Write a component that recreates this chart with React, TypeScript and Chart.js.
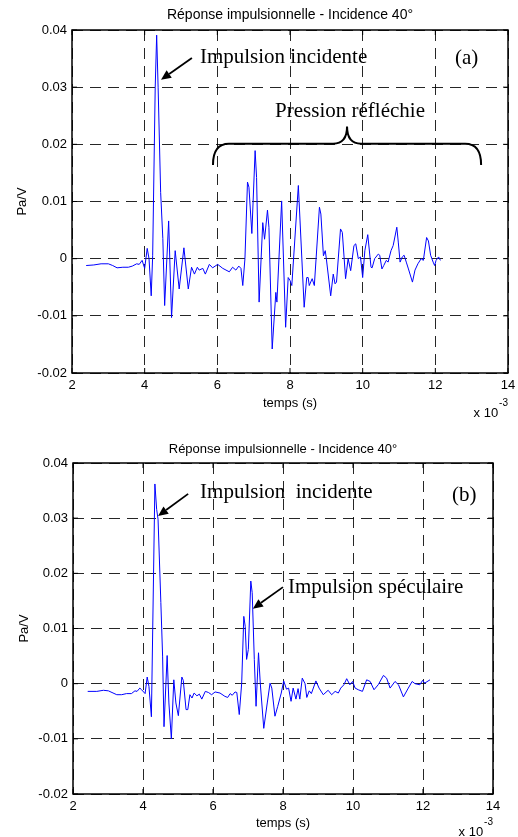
import React, { useEffect, useRef } from 'react';
import { Chart, registerables } from 'chart.js';

Chart.register(...registerables);

// ---------- DATA ----------
const chartTitle = 'Réponse impulsionnelle - Incidence 40°';
const xAxisLabel = 'temps (s)';
const yAxisLabel = 'Pa/V';
const xMin = 2;
const xMax = 14;
const xStep = 2;
const yMin = -0.02;
const yMax = 0.04;
const yStep = 0.01;

// time in units of 1e-3 s
const timeA = [
  2.39, 2.6, 2.8, 3.0, 3.12, 3.24, 3.4, 3.55, 3.66, 3.78,
  3.85, 3.93, 4.0, 4.07, 4.12, 4.18, 4.22, 4.29, 4.33, 4.37,
  4.44, 4.5, 4.55, 4.66, 4.74, 4.84, 4.95, 5.08, 5.2, 5.29,
  5.37, 5.45, 5.5, 5.6, 5.67, 5.78, 5.87, 6.01, 6.15, 6.33,
  6.42, 6.51, 6.59, 6.65, 6.7, 6.76, 6.83, 6.87, 6.95, 7.04,
  7.08, 7.15, 7.25, 7.3, 7.38, 7.42, 7.51, 7.61, 7.64, 7.77,
  7.88, 7.95, 8.0, 8.05, 8.23, 8.39, 8.46, 8.5, 8.53, 8.61,
  8.67, 8.81, 8.85, 8.92, 8.97, 9.0, 9.12, 9.19, 9.24, 9.28,
  9.39, 9.44, 9.53, 9.6, 9.67, 9.76, 9.81, 9.88, 9.94, 10.0,
  10.06, 10.14, 10.23, 10.26, 10.33, 10.43, 10.47, 10.53, 10.58, 10.65,
  10.7, 10.78, 10.84, 10.94, 10.98, 11.03, 11.09, 11.14, 11.2, 11.26,
  11.37, 11.44, 11.52, 11.61, 11.67, 11.76, 11.81, 11.87, 11.94, 11.98,
  12.02, 12.09, 12.14,
];
const pressureA = [
  -0.0012, -0.0011, -0.0009, -0.0009, -0.0012, -0.0016, -0.0015, -0.0015, -0.0013, -0.0009,
  -0.001, -0.0003, -0.0017, 0.0018, 0.0, -0.0065, 0.0005, 0.030, 0.0391, 0.030,
  0.0116, 0.0035, -0.0082, 0.0066, -0.0103, 0.0014, -0.0053, 0.0019, -0.0053, -0.0015,
  -0.0027, -0.0015, -0.002, -0.0017, -0.0027, -0.001, -0.0016, -0.001, -0.0017, -0.0023,
  -0.0015, -0.002, -0.0013, -0.0017, -0.0047, 0.0, 0.0134, 0.0125, 0.0044, 0.0189,
  0.0142, -0.0076, 0.0063, 0.0034, 0.0085, 0.0055, -0.0158, -0.0059, -0.0076, 0.0101,
  -0.012, -0.0033, -0.0038, -0.0047, 0.0128, -0.0085, -0.0033, -0.0033, -0.0047, -0.0035,
  -0.0047, 0.009, 0.0078, 0.0005, 0.0014, 0.0, -0.0065, -0.0027, -0.0044, -0.0041,
  0.0052, 0.0046, -0.0035, 0.0, -0.0021, 0.0023, 0.0026, 0.0, 0.0003, -0.0033,
  0.0014, 0.0042, -0.0015, -0.0016, 0.0, 0.0008, 0.0006, -0.0018, -0.0012, -0.0003,
  -0.0006, 0.0014, 0.0023, 0.0055, 0.0029, -0.0006, 0.0003, 0.0006, -0.0006, -0.0018,
  -0.0041, -0.002, -0.0009, 0.0, -0.0003, 0.0037, 0.0031, 0.0006, -0.0006, -0.0012,
  -0.0003, 0.0003, -0.0003,
];

const timeB = [
  2.42, 2.68, 2.87, 3.01, 3.25, 3.39, 3.53, 3.67, 3.77, 3.83,
  3.91, 3.96, 4.06, 4.12, 4.17, 4.24, 4.34, 4.39, 4.43, 4.51,
  4.56, 4.6, 4.69, 4.74, 4.81, 4.88, 4.94, 5.01, 5.11, 5.15,
  5.23, 5.28, 5.34, 5.4, 5.46, 5.54, 5.61, 5.68, 5.78, 5.87,
  5.96, 6.06, 6.2, 6.34, 6.42, 6.49, 6.55, 6.63, 6.68, 6.75,
  6.82, 6.88, 6.92, 6.96, 7.01, 7.08, 7.12, 7.18, 7.23, 7.3,
  7.35, 7.45, 7.55, 7.63, 7.68, 7.77, 7.85, 7.95, 8.02, 8.1,
  8.16, 8.23, 8.29, 8.37, 8.43, 8.48, 8.55, 8.63, 8.68, 8.75,
  8.81, 8.94, 9.03, 9.15, 9.29, 9.39, 9.49, 9.58, 9.65, 9.74,
  9.82, 9.91, 9.99, 10.06, 10.15, 10.27, 10.39, 10.49, 10.6, 10.72,
  10.87, 10.96, 11.06, 11.2, 11.3, 11.44, 11.58, 11.69, 11.77, 11.91,
  11.99, 12.05, 12.2,
];
const pressureB = [
  -0.0014, -0.0014, -0.0012, -0.0013, -0.002, -0.002, -0.0018, -0.0018, -0.0013, -0.0014,
  -0.0008, -0.0011, -0.0018, 0.0012, -0.0005, -0.006, 0.0362, 0.0316, 0.0298, 0.0147,
  0.005, -0.0078, 0.0051, -0.0035, -0.010, 0.0007, -0.0035, -0.0058, 0.0012, 0.0006,
  -0.0047, -0.0047, -0.002, -0.0026, -0.0017, -0.0022, -0.0019, -0.0028, -0.0014, -0.0016,
  -0.002, -0.0015, -0.0017, -0.0023, -0.0025, -0.0018, -0.0021, -0.0015, -0.0016, -0.0056,
  0.0001, 0.0122, 0.0104, 0.0044, 0.0062, 0.0186, 0.0165, 0.0044, -0.0041, 0.0056,
  0.0001, -0.0081, -0.0035, 0.0001, -0.0008, -0.0059, -0.0041, -0.0017, 0.0005, -0.001,
  -0.0008, -0.0032, -0.0008, -0.0028, -0.0009, -0.0028, 0.001, 0.0, -0.0025, -0.0013,
  -0.0018, 0.0005, -0.0008, -0.002, -0.0012, -0.002, -0.0014, -0.0017, -0.0008, -0.0002,
  0.0009, -0.0002, 0.0004, -0.0008, -0.0011, -0.0014, 0.0007, 0.0004, -0.0011, -0.0002,
  0.0015, 0.001, -0.0008, 0.0004, -0.0002, -0.0024, -0.0008, 0.0004, 0.0, -0.0002,
  0.0006, 0.0001, 0.0007,
];

// annotations (anchored in data coordinates)
const notesA = [
  { text: 'Impulsion incidente', t: 5.52, v: 0.0343 },
  { text: '(a)', t: 12.54, v: 0.0341 },
  { text: 'Pression réfléchie', t: 7.59, v: 0.0247 },
];
const arrowsA = [{ t0: 5.3, v0: 0.0351, t1: 4.45, v1: 0.0313 }];
const bracesA = [{ tStart: 5.88, tEnd: 13.26, tMid: 9.57, vLine: 0.0201, vEnd: 0.0164, vTip: 0.0231 }];

const notesB = [
  { text: 'Impulsion  incidente', t: 5.63, v: 0.0336 },
  { text: '(b)', t: 12.83, v: 0.0331 },
  { text: 'Impulsion spéculaire', t: 8.14, v: 0.0164 },
];
const arrowsB = [
  { t0: 5.29, v0: 0.0344, t1: 4.43, v1: 0.0304 },
  { t0: 8.0, v0: 0.0175, t1: 7.14, v1: 0.0136 },
];
const bracesB: any[] = [];

// ---------- RENDERING ----------
const SANS = '"Liberation Sans", Arial, Helvetica, sans-serif';
const SERIF = '"Liberation Serif", "Times New Roman", Times, serif';

type PanelSpec = {
  times: number[];
  values: number[];
  notes: { text: string; t: number; v: number }[];
  arrows: { t0: number; v0: number; t1: number; v1: number }[];
  braces: any[];
  height: number;
  padRight: number;
  yAxisWidth: number;
  xAxisHeight: number;
  titleSize: number;
  titlePad: { top: number; bottom: number };
  tickSize: number;
  yTitlePad: number;
  xTitlePad: number;
  expoDy: number;
  supDy: number;
};

function decorPlugin(spec: PanelSpec) {
  return {
    id: 'decor',
    afterDraw(chart: any) {
      const { ctx, chartArea: a, scales } = chart;
      const xs = scales.x;
      const ys = scales.y;
      const px = (t: number) => xs.getPixelForValue(t);
      const py = (v: number) => ys.getPixelForValue(v);
      ctx.save();
      ctx.setLineDash([]);
      ctx.strokeStyle = '#000';
      ctx.fillStyle = '#000';
      // inner tick marks (Matlab style)
      ctx.lineWidth = 1;
      ctx.beginPath();
      xs.ticks.forEach((tk: any) => {
        const x = px(tk.value);
        ctx.moveTo(x, a.bottom);
        ctx.lineTo(x, a.bottom - 5);
        ctx.moveTo(x, a.top);
        ctx.lineTo(x, a.top + 5);
      });
      ys.ticks.forEach((tk: any) => {
        const y = py(tk.value);
        ctx.moveTo(a.left, y);
        ctx.lineTo(a.left + 5, y);
        ctx.moveTo(a.right, y);
        ctx.lineTo(a.right - 5, y);
      });
      ctx.stroke();
      // axes box
      ctx.lineWidth = 1.5;
      ctx.strokeRect(a.left, a.top, a.right - a.left, a.bottom - a.top);

      // text notes
      ctx.font = '21px ' + SERIF;
      ctx.textAlign = 'left';
      ctx.textBaseline = 'alphabetic';
      spec.notes.forEach((n) => ctx.fillText(n.text, px(n.t), py(n.v)));

      // arrows
      spec.arrows.forEach((ar) => {
        const x0 = px(ar.t0), y0 = py(ar.v0), x1 = px(ar.t1), y1 = py(ar.v1);
        const ang = Math.atan2(y1 - y0, x1 - x0);
        const L = 10, W = 4.5;
        const bx = x1 - L * Math.cos(ang), by = y1 - L * Math.sin(ang);
        ctx.lineWidth = 1.8;
        ctx.beginPath();
        ctx.moveTo(x0, y0);
        ctx.lineTo(bx, by);
        ctx.stroke();
        ctx.beginPath();
        ctx.moveTo(x1, y1);
        ctx.lineTo(bx + W * Math.sin(ang), by - W * Math.cos(ang));
        ctx.lineTo(bx - W * Math.sin(ang), by + W * Math.cos(ang));
        ctx.closePath();
        ctx.fill();
      });

      // braces
      spec.braces.forEach((b) => {
        const L = px(b.tStart), R = px(b.tEnd), C = px(b.tMid);
        const yH = py(b.vLine), yE = py(b.vEnd), yT = py(b.vTip);
        const r = 16, r2 = 14;
        ctx.lineWidth = 2;
        ctx.beginPath();
        ctx.moveTo(L, yE);
        ctx.quadraticCurveTo(L, yH, L + r, yH);
        ctx.lineTo(C - r2, yH);
        ctx.quadraticCurveTo(C, yH, C, yT);
        ctx.quadraticCurveTo(C, yH, C + r2, yH);
        ctx.lineTo(R - r, yH);
        ctx.quadraticCurveTo(R, yH, R, yE);
        ctx.stroke();
      });

      // x 10^-3 multiplier
      ctx.font = '10px ' + SANS;
      const supW = ctx.measureText('-3').width;
      ctx.textAlign = 'right';
      ctx.fillText('-3', a.right, a.bottom + spec.supDy);
      ctx.font = spec.tickSize + 'px ' + SANS;
      ctx.fillText('x 10', a.right - supW - 1, a.bottom + spec.expoDy);
      ctx.restore();
    },
  };
}

function buildConfig(spec: PanelSpec): any {
  const points = spec.times.map((t, i) => ({ x: t, y: spec.values[i] }));
  const gridCommon = {
    color: 'rgba(0,0,0,0.85)',
    lineWidth: 1,
    drawTicks: false,
    borderDash: [11, 7],
  };
  return {
    type: 'line',
    data: {
      datasets: [
        {
          data: points,
          borderColor: '#0000ff',
          borderWidth: 1,
          pointRadius: 0,
          tension: 0,
          fill: false,
        },
      ],
    },
    options: {
      animation: false,
      responsive: false,
      maintainAspectRatio: false,
      events: [],
      layout: { padding: { left: 0, right: spec.padRight, top: 0, bottom: 0 } },
      plugins: {
        legend: { display: false },
        tooltip: { enabled: false },
        title: {
          display: true,
          text: chartTitle,
          fullSize: false,
          color: '#000',
          font: { family: SANS, size: spec.titleSize, weight: 'normal' },
          padding: spec.titlePad,
        },
      },
      scales: {
        x: {
          type: 'linear',
          min: xMin,
          max: xMax,
          grid: gridCommon,
          border: { display: false, dash: [11, 7] },
          ticks: {
            stepSize: xStep,
            color: '#000',
            padding: 5,
            maxRotation: 0,
            font: { family: SANS, size: spec.tickSize },
            callback: (v: number) => String(Math.round(v)),
          },
          title: {
            display: true,
            text: xAxisLabel,
            color: '#000',
            font: { family: SANS, size: spec.tickSize },
            padding: { top: 0, bottom: spec.xTitlePad },
          },
          afterFit: (s: any) => {
            s.height = spec.xAxisHeight;
            s.paddingLeft = 0;
            s.paddingRight = 0;
          },
        },
        y: {
          type: 'linear',
          min: yMin,
          max: yMax,
          grid: gridCommon,
          border: { display: false, dash: [11, 7] },
          ticks: {
            stepSize: yStep,
            color: '#000',
            padding: 5,
            font: { family: SANS, size: spec.tickSize },
            callback: (v: number) => (Math.abs(v) < 1e-9 ? '0' : v.toFixed(2)),
          },
          title: {
            display: true,
            text: yAxisLabel,
            color: '#000',
            font: { family: SANS, size: spec.tickSize },
            padding: { top: spec.yTitlePad, bottom: 0 },
          },
          afterFit: (s: any) => {
            s.width = spec.yAxisWidth;
            s.paddingTop = 0;
            s.paddingBottom = 0;
          },
        },
      },
    },
    plugins: [decorPlugin(spec)],
  };
}

function Panel({ spec, top }: { spec: PanelSpec; top: number }) {
  const ref = useRef<HTMLCanvasElement>(null);
  useEffect(() => {
    if (!ref.current) return;
    const chart = new Chart(ref.current, buildConfig(spec));
    return () => chart.destroy();
  }, [spec]);
  return (
    <canvas
      ref={ref}
      width={518}
      height={spec.height}
      style={{ position: 'absolute', left: 0, top, width: 518, height: spec.height }}
    />
  );
}

const specA: PanelSpec = {
  times: timeA,
  values: pressureA,
  notes: notesA,
  arrows: arrowsA,
  braces: bracesA,
  height: 418,
  padRight: 10,
  yAxisWidth: 72,
  xAxisHeight: 45,
  titleSize: 14,
  titlePad: { top: 6.6, bottom: 6.6 },
  tickSize: 13,
  yTitlePad: 15,
  xTitlePad: 6.8,
  expoDy: 43.5,
  supDy: 32.5,
};

const specB: PanelSpec = {
  times: timeB,
  values: pressureB,
  notes: notesB,
  arrows: arrowsB,
  braces: bracesB,
  height: 419,
  padRight: 25,
  yAxisWidth: 73,
  xAxisHeight: 43,
  titleSize: 13,
  titlePad: { top: 23.2, bottom: 6.2 },
  tickSize: 13,
  yTitlePad: 17,
  xTitlePad: 5.9,
  expoDy: 42.3,
  supDy: 31.3,
};

export default function App() {
  return (
    <div style={{ position: 'absolute', left: 0, top: 0, width: 518, height: 837, background: '#fff' }}>
      <Panel spec={specA} top={0} />
      <Panel spec={specB} top={418} />
    </div>
  );
}
